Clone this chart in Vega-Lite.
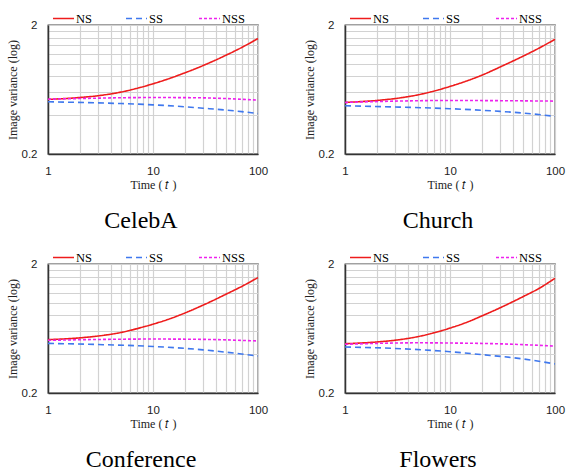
{
  "$schema": "https://vega.github.io/schema/vega-lite/v6.json",
  "background": "white",
  "padding": {"left": 5, "top": 6, "right": 0, "bottom": 0},
  "datasets": {
    "curves": [
      {"dataset": "CelebA", "series": "NS", "t": 1, "value": 0.53},
      {"dataset": "CelebA", "series": "NS", "t": 2, "value": 0.548},
      {"dataset": "CelebA", "series": "NS", "t": 3, "value": 0.566},
      {"dataset": "CelebA", "series": "NS", "t": 5, "value": 0.605},
      {"dataset": "CelebA", "series": "NS", "t": 7, "value": 0.645},
      {"dataset": "CelebA", "series": "NS", "t": 10, "value": 0.7},
      {"dataset": "CelebA", "series": "NS", "t": 15, "value": 0.78},
      {"dataset": "CelebA", "series": "NS", "t": 20, "value": 0.85},
      {"dataset": "CelebA", "series": "NS", "t": 30, "value": 0.97},
      {"dataset": "CelebA", "series": "NS", "t": 50, "value": 1.17},
      {"dataset": "CelebA", "series": "NS", "t": 70, "value": 1.34},
      {"dataset": "CelebA", "series": "NS", "t": 100, "value": 1.57},
      {"dataset": "CelebA", "series": "SS", "t": 1, "value": 0.508},
      {"dataset": "CelebA", "series": "SS", "t": 3, "value": 0.498},
      {"dataset": "CelebA", "series": "SS", "t": 5, "value": 0.492},
      {"dataset": "CelebA", "series": "SS", "t": 10, "value": 0.481},
      {"dataset": "CelebA", "series": "SS", "t": 20, "value": 0.465},
      {"dataset": "CelebA", "series": "SS", "t": 30, "value": 0.453},
      {"dataset": "CelebA", "series": "SS", "t": 50, "value": 0.438},
      {"dataset": "CelebA", "series": "SS", "t": 70, "value": 0.426},
      {"dataset": "CelebA", "series": "SS", "t": 100, "value": 0.412},
      {"dataset": "CelebA", "series": "NSS", "t": 1, "value": 0.532},
      {"dataset": "CelebA", "series": "NSS", "t": 3, "value": 0.542},
      {"dataset": "CelebA", "series": "NSS", "t": 5, "value": 0.546},
      {"dataset": "CelebA", "series": "NSS", "t": 10, "value": 0.548},
      {"dataset": "CelebA", "series": "NSS", "t": 20, "value": 0.547},
      {"dataset": "CelebA", "series": "NSS", "t": 30, "value": 0.545},
      {"dataset": "CelebA", "series": "NSS", "t": 50, "value": 0.538},
      {"dataset": "CelebA", "series": "NSS", "t": 70, "value": 0.531},
      {"dataset": "CelebA", "series": "NSS", "t": 100, "value": 0.523},

      {"dataset": "Church", "series": "NS", "t": 1, "value": 0.502},
      {"dataset": "Church", "series": "NS", "t": 2, "value": 0.52},
      {"dataset": "Church", "series": "NS", "t": 3, "value": 0.538},
      {"dataset": "Church", "series": "NS", "t": 5, "value": 0.576},
      {"dataset": "Church", "series": "NS", "t": 7, "value": 0.614},
      {"dataset": "Church", "series": "NS", "t": 10, "value": 0.668},
      {"dataset": "Church", "series": "NS", "t": 15, "value": 0.745},
      {"dataset": "Church", "series": "NS", "t": 20, "value": 0.815},
      {"dataset": "Church", "series": "NS", "t": 30, "value": 0.945},
      {"dataset": "Church", "series": "NS", "t": 50, "value": 1.15},
      {"dataset": "Church", "series": "NS", "t": 70, "value": 1.32},
      {"dataset": "Church", "series": "NS", "t": 100, "value": 1.55},
      {"dataset": "Church", "series": "SS", "t": 1, "value": 0.473},
      {"dataset": "Church", "series": "SS", "t": 3, "value": 0.463},
      {"dataset": "Church", "series": "SS", "t": 10, "value": 0.449},
      {"dataset": "Church", "series": "SS", "t": 30, "value": 0.428},
      {"dataset": "Church", "series": "SS", "t": 50, "value": 0.415},
      {"dataset": "Church", "series": "SS", "t": 100, "value": 0.392},
      {"dataset": "Church", "series": "NSS", "t": 1, "value": 0.502},
      {"dataset": "Church", "series": "NSS", "t": 3, "value": 0.514},
      {"dataset": "Church", "series": "NSS", "t": 10, "value": 0.52},
      {"dataset": "Church", "series": "NSS", "t": 30, "value": 0.518},
      {"dataset": "Church", "series": "NSS", "t": 100, "value": 0.514},

      {"dataset": "Conference", "series": "NS", "t": 1, "value": 0.518},
      {"dataset": "Conference", "series": "NS", "t": 2, "value": 0.535},
      {"dataset": "Conference", "series": "NS", "t": 3, "value": 0.553},
      {"dataset": "Conference", "series": "NS", "t": 5, "value": 0.59},
      {"dataset": "Conference", "series": "NS", "t": 7, "value": 0.63},
      {"dataset": "Conference", "series": "NS", "t": 10, "value": 0.683},
      {"dataset": "Conference", "series": "NS", "t": 15, "value": 0.76},
      {"dataset": "Conference", "series": "NS", "t": 20, "value": 0.832},
      {"dataset": "Conference", "series": "NS", "t": 30, "value": 0.96},
      {"dataset": "Conference", "series": "NS", "t": 50, "value": 1.17},
      {"dataset": "Conference", "series": "NS", "t": 70, "value": 1.34},
      {"dataset": "Conference", "series": "NS", "t": 100, "value": 1.57},
      {"dataset": "Conference", "series": "SS", "t": 1, "value": 0.485},
      {"dataset": "Conference", "series": "SS", "t": 3, "value": 0.475},
      {"dataset": "Conference", "series": "SS", "t": 10, "value": 0.459},
      {"dataset": "Conference", "series": "SS", "t": 30, "value": 0.432},
      {"dataset": "Conference", "series": "SS", "t": 50, "value": 0.414},
      {"dataset": "Conference", "series": "SS", "t": 100, "value": 0.387},
      {"dataset": "Conference", "series": "NSS", "t": 1, "value": 0.512},
      {"dataset": "Conference", "series": "NSS", "t": 3, "value": 0.52},
      {"dataset": "Conference", "series": "NSS", "t": 10, "value": 0.524},
      {"dataset": "Conference", "series": "NSS", "t": 30, "value": 0.521},
      {"dataset": "Conference", "series": "NSS", "t": 100, "value": 0.506},

      {"dataset": "Flowers", "series": "NS", "t": 1, "value": 0.482},
      {"dataset": "Flowers", "series": "NS", "t": 2, "value": 0.497},
      {"dataset": "Flowers", "series": "NS", "t": 3, "value": 0.513},
      {"dataset": "Flowers", "series": "NS", "t": 5, "value": 0.548},
      {"dataset": "Flowers", "series": "NS", "t": 7, "value": 0.585},
      {"dataset": "Flowers", "series": "NS", "t": 10, "value": 0.637},
      {"dataset": "Flowers", "series": "NS", "t": 15, "value": 0.715},
      {"dataset": "Flowers", "series": "NS", "t": 20, "value": 0.79},
      {"dataset": "Flowers", "series": "NS", "t": 30, "value": 0.915},
      {"dataset": "Flowers", "series": "NS", "t": 50, "value": 1.12},
      {"dataset": "Flowers", "series": "NS", "t": 70, "value": 1.29},
      {"dataset": "Flowers", "series": "NS", "t": 100, "value": 1.55},
      {"dataset": "Flowers", "series": "SS", "t": 1, "value": 0.455},
      {"dataset": "Flowers", "series": "SS", "t": 3, "value": 0.443},
      {"dataset": "Flowers", "series": "SS", "t": 10, "value": 0.418},
      {"dataset": "Flowers", "series": "SS", "t": 20, "value": 0.397},
      {"dataset": "Flowers", "series": "SS", "t": 50, "value": 0.367},
      {"dataset": "Flowers", "series": "SS", "t": 100, "value": 0.336},
      {"dataset": "Flowers", "series": "NSS", "t": 1, "value": 0.477},
      {"dataset": "Flowers", "series": "NSS", "t": 3, "value": 0.488},
      {"dataset": "Flowers", "series": "NSS", "t": 5, "value": 0.49},
      {"dataset": "Flowers", "series": "NSS", "t": 10, "value": 0.488},
      {"dataset": "Flowers", "series": "NSS", "t": 30, "value": 0.481},
      {"dataset": "Flowers", "series": "NSS", "t": 100, "value": 0.462}
    ]
  },
  "data": {"name": "curves"},
  "columns": 2,
  "bounds": "flush",
  "spacing": {"column": 87, "row": 110},
  "concat": [
    {
      "transform": [{"filter": "datum.dataset === 'CelebA'"}],
      "title": {"text": "CelebA"},
      "width": 210, "height": 129,
      "mark": {"type": "line", "strokeWidth": 1.6, "interpolate": "monotone"},
      "encoding": {
        "x": {"field": "t", "type": "quantitative", "scale": {"type": "log", "domain": [1, 100], "nice": false},
              "axis": {"title": "Time ( 𝑡 )", "values": [1,2,3,4,5,6,7,8,9,10,20,30,40,50,60,70,80,90,100], "format": "d", "labelExpr": "datum.value == 1 || datum.value == 10 || datum.value == 100 ? datum.label : ''"}},
        "y": {"field": "value", "type": "quantitative", "scale": {"type": "log", "domain": [0.2, 2], "nice": false},
              "axis": {"title": "Image variance (log)", "values": [0.2,0.4,0.6,0.8,1,1.2,1.4,1.6,1.8,2], "format": "~g", "labelExpr": "datum.value == 0.2 || datum.value == 2 ? datum.label : ''"}},
        "color": {"field": "series", "type": "nominal", "title": null,
                  "scale": {"domain": ["NS", "SS", "NSS"], "range": ["#ee1c1c", "#3f78ee", "#ee22ee"]},
                  "legend": {"orient": "none", "legendX": 4, "legendY": -18, "direction": "horizontal"}},
        "strokeDash": {"field": "series", "type": "nominal", "title": null,
                  "scale": {"domain": ["NS", "SS", "NSS"], "range": [[1, 0], [6, 4], [3, 2]]},
                  "legend": {"orient": "none", "legendX": 4, "legendY": -18, "direction": "horizontal"}}
      }
    },
    {
      "transform": [{"filter": "datum.dataset === 'Church'"}],
      "title": {"text": "Church"},
      "width": 210, "height": 129,
      "mark": {"type": "line", "strokeWidth": 1.6, "interpolate": "monotone"},
      "encoding": {
        "x": {"field": "t", "type": "quantitative", "scale": {"type": "log", "domain": [1, 100], "nice": false},
              "axis": {"title": "Time ( 𝑡 )", "values": [1,2,3,4,5,6,7,8,9,10,20,30,40,50,60,70,80,90,100], "format": "d", "labelExpr": "datum.value == 1 || datum.value == 10 || datum.value == 100 ? datum.label : ''"}},
        "y": {"field": "value", "type": "quantitative", "scale": {"type": "log", "domain": [0.2, 2], "nice": false},
              "axis": {"title": "Image variance (log)", "values": [0.2,0.4,0.6,0.8,1,1.2,1.4,1.6,1.8,2], "format": "~g", "labelExpr": "datum.value == 0.2 || datum.value == 2 ? datum.label : ''"}},
        "color": {"field": "series", "type": "nominal", "title": null,
                  "scale": {"domain": ["NS", "SS", "NSS"], "range": ["#ee1c1c", "#3f78ee", "#ee22ee"]},
                  "legend": {"orient": "none", "legendX": 4, "legendY": -18, "direction": "horizontal"}},
        "strokeDash": {"field": "series", "type": "nominal", "title": null,
                  "scale": {"domain": ["NS", "SS", "NSS"], "range": [[1, 0], [6, 4], [3, 2]]},
                  "legend": {"orient": "none", "legendX": 4, "legendY": -18, "direction": "horizontal"}}
      }
    },
    {
      "transform": [{"filter": "datum.dataset === 'Conference'"}],
      "title": {"text": "Conference"},
      "width": 210, "height": 129,
      "mark": {"type": "line", "strokeWidth": 1.6, "interpolate": "monotone"},
      "encoding": {
        "x": {"field": "t", "type": "quantitative", "scale": {"type": "log", "domain": [1, 100], "nice": false},
              "axis": {"title": "Time ( 𝑡 )", "values": [1,2,3,4,5,6,7,8,9,10,20,30,40,50,60,70,80,90,100], "format": "d", "labelExpr": "datum.value == 1 || datum.value == 10 || datum.value == 100 ? datum.label : ''"}},
        "y": {"field": "value", "type": "quantitative", "scale": {"type": "log", "domain": [0.2, 2], "nice": false},
              "axis": {"title": "Image variance (log)", "values": [0.2,0.4,0.6,0.8,1,1.2,1.4,1.6,1.8,2], "format": "~g", "labelExpr": "datum.value == 0.2 || datum.value == 2 ? datum.label : ''"}},
        "color": {"field": "series", "type": "nominal", "title": null,
                  "scale": {"domain": ["NS", "SS", "NSS"], "range": ["#ee1c1c", "#3f78ee", "#ee22ee"]},
                  "legend": {"orient": "none", "legendX": 4, "legendY": -18, "direction": "horizontal"}},
        "strokeDash": {"field": "series", "type": "nominal", "title": null,
                  "scale": {"domain": ["NS", "SS", "NSS"], "range": [[1, 0], [6, 4], [3, 2]]},
                  "legend": {"orient": "none", "legendX": 4, "legendY": -18, "direction": "horizontal"}}
      }
    },
    {
      "transform": [{"filter": "datum.dataset === 'Flowers'"}],
      "title": {"text": "Flowers"},
      "width": 210, "height": 129,
      "mark": {"type": "line", "strokeWidth": 1.6, "interpolate": "monotone"},
      "encoding": {
        "x": {"field": "t", "type": "quantitative", "scale": {"type": "log", "domain": [1, 100], "nice": false},
              "axis": {"title": "Time ( 𝑡 )", "values": [1,2,3,4,5,6,7,8,9,10,20,30,40,50,60,70,80,90,100], "format": "d", "labelExpr": "datum.value == 1 || datum.value == 10 || datum.value == 100 ? datum.label : ''"}},
        "y": {"field": "value", "type": "quantitative", "scale": {"type": "log", "domain": [0.2, 2], "nice": false},
              "axis": {"title": "Image variance (log)", "values": [0.2,0.4,0.6,0.8,1,1.2,1.4,1.6,1.8,2], "format": "~g", "labelExpr": "datum.value == 0.2 || datum.value == 2 ? datum.label : ''"}},
        "color": {"field": "series", "type": "nominal", "title": null,
                  "scale": {"domain": ["NS", "SS", "NSS"], "range": ["#ee1c1c", "#3f78ee", "#ee22ee"]},
                  "legend": {"orient": "none", "legendX": 4, "legendY": -18, "direction": "horizontal"}},
        "strokeDash": {"field": "series", "type": "nominal", "title": null,
                  "scale": {"domain": ["NS", "SS", "NSS"], "range": [[1, 0], [6, 4], [3, 2]]},
                  "legend": {"orient": "none", "legendX": 4, "legendY": -18, "direction": "horizontal"}}
      }
    }
  ],
  "resolve": {
    "scale": {"x": "independent", "y": "independent", "color": "independent", "strokeDash": "independent"},
    "axis": {"x": "independent", "y": "independent"},
    "legend": {"color": "independent", "strokeDash": "independent"}
  },
  "config": {
    "view": {"stroke": "#444444", "strokeWidth": 1.3},
    "axis": {
      "grid": true, "gridColor": "#d2d2d2", "gridWidth": 1.2, "ticks": false,
      "domain": true, "domainColor": "#333333", "domainWidth": 1.5,
      "labelFont": "Liberation Sans", "labelFontSize": 11.5, "labelColor": "#222222",
      "labelOverlap": false, "labelFlush": false,
      "titleFont": "Liberation Serif", "titleFontSize": 12, "titleFontWeight": "normal", "titleColor": "#222222"
    },
    "axisX": {"labelPadding": 11, "titlePadding": 3},
    "axisY": {"labelPadding": 11, "titlePadding": 2},
    "legend": {
      "gridAlign": "all", "columnPadding": 24, "symbolType": "stroke", "symbolSize": 441,
      "symbolStrokeWidth": 1.5, "labelFont": "Liberation Serif", "labelFontSize": 12.5,
      "labelColor": "#000000", "labelOffset": 1, "padding": 0
    },
    "title": {
      "orient": "bottom", "anchor": "middle", "font": "Liberation Serif", "fontSize": 24,
      "fontWeight": "normal", "color": "#000000", "offset": 18, "dx": -12
    }
  }
}
